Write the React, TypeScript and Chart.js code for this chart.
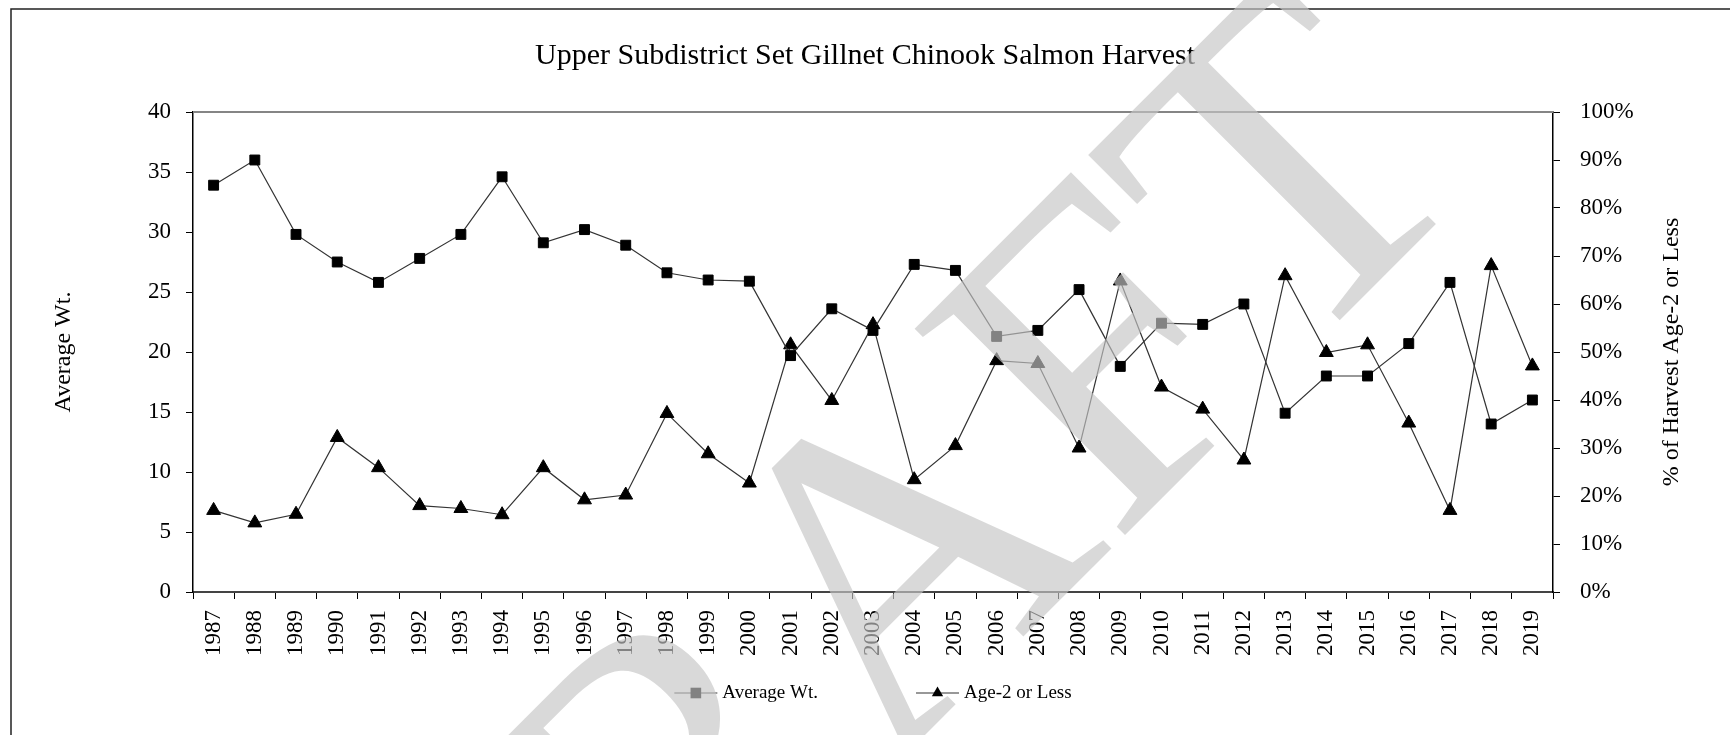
import React, { useEffect, useRef } from 'react';
import { Chart, registerables } from 'chart.js';

Chart.register(...registerables);

const chartTitle = 'Upper Subdistrict Set Gillnet Chinook Salmon Harvest';
const years = [
  '1987', '1988', '1989', '1990', '1991', '1992', '1993', '1994', '1995', '1996', '1997',
  '1998', '1999', '2000', '2001', '2002', '2003', '2004', '2005', '2006', '2007', '2008',
  '2009', '2010', '2011', '2012', '2013', '2014', '2015', '2016', '2017', '2018', '2019',
];
const averageWt = [
  33.9, 36.0, 29.8, 27.5, 25.8, 27.8, 29.8, 34.6, 29.1, 30.2, 28.9,
  26.6, 26.0, 25.9, 19.7, 23.6, 21.8, 27.3, 26.8, 21.3, 21.8, 25.2,
  18.8, 22.4, 22.3, 24.0, 14.9, 18.0, 18.0, 20.7, 25.8, 14.0, 16.0,
];
const ageTwoOrLessPct = [
  17.0, 14.4, 16.2, 32.2, 25.9, 18.0, 17.4, 16.1, 25.9, 19.2, 20.2,
  37.2, 28.8, 22.7, 51.5, 39.9, 55.7, 23.4, 30.5, 48.2, 47.6, 30.0,
  64.8, 42.7, 38.1, 27.5, 65.9, 49.9, 51.5, 35.2, 17.0, 68.0, 47.1,
];
const leftAxisRange = [0, 40];
const leftAxisStep = 5;
const rightAxisRange = [0, 100];
const rightAxisStep = 10;
const leftAxisTitle = 'Average Wt.';
const rightAxisTitle = '% of Harvest Age-2 or Less';
const watermarkText = 'DRAFT';

const SERIF = "'Liberation Serif', 'Times New Roman', serif";
const W = 1730;
const H = 735;

const framePlugin = {
  id: 'frame',
  beforeDraw(chart: any) {
    const { ctx } = chart;
    ctx.save();
    ctx.fillStyle = '#fff';
    ctx.fillRect(0, 0, chart.width, chart.height);
    ctx.strokeStyle = '#222';
    ctx.lineWidth = 1.5;
    ctx.beginPath();
    ctx.moveTo(11, chart.height + 5);
    ctx.lineTo(11, 9);
    ctx.lineTo(chart.width + 5, 9);
    ctx.stroke();
    ctx.restore();
  },
};

const plotTopPlugin = {
  id: 'plotTop',
  afterDatasetsDraw(chart: any) {
    const { ctx, chartArea } = chart;
    ctx.save();
    ctx.strokeStyle = '#858585';
    ctx.lineWidth = 2;
    ctx.beginPath();
    ctx.moveTo(chartArea.left, chartArea.top);
    ctx.lineTo(chartArea.right, chartArea.top);
    ctx.stroke();
    ctx.restore();
  },
};

const rightTitlePlugin = {
  id: 'rightTitle',
  afterDraw(chart: any) {
    const { ctx, chartArea } = chart;
    ctx.save();
    ctx.translate(1672, (chartArea.top + chartArea.bottom) / 2);
    ctx.rotate(-Math.PI / 2);
    ctx.font = `24px ${SERIF}`;
    ctx.fillStyle = '#000';
    ctx.textAlign = 'center';
    ctx.textBaseline = 'middle';
    ctx.fillText(rightAxisTitle, 0, 0);
    ctx.restore();
  },
};

function drawMarker(ctx: CanvasRenderingContext2D, style: string, x: number, y: number, r: number) {
  ctx.beginPath();
  if (style === 'triangle') {
    ctx.moveTo(x, y - r);
    ctx.lineTo(x + r * 0.866, y + r * 0.5);
    ctx.lineTo(x - r * 0.866, y + r * 0.5);
    ctx.closePath();
  } else {
    ctx.rect(x - r * 0.707, y - r * 0.707, r * 1.414, r * 1.414);
  }
  ctx.fill();
}

const legendPlugin = {
  id: 'seriesLegend',
  afterDraw(chart: any) {
    const { ctx, chartArea } = chart;
    ctx.save();
    ctx.font = `19px ${SERIF}`;
    const symbolW = 43;
    const textGap = 5;
    const itemGap = 98;
    const items = chart.data.datasets.map((ds: any) => ({
      label: ds.label,
      style: ds.pointStyle,
      w: symbolW + textGap + ctx.measureText(ds.label).width,
    }));
    const total = items.reduce((a: number, it: any) => a + it.w, 0) + itemGap * (items.length - 1);
    let x = (chartArea.left + chartArea.right) / 2 - total / 2;
    const y = chartArea.bottom + 101;
    items.forEach((it: any) => {
      ctx.strokeStyle = '#333';
      ctx.lineWidth = 1.2;
      ctx.beginPath();
      ctx.moveTo(x, y);
      ctx.lineTo(x + symbolW, y);
      ctx.stroke();
      ctx.fillStyle = '#000';
      drawMarker(ctx, it.style, x + symbolW / 2, y, it.style === 'triangle' ? 6.5 : 7.5);
      ctx.textAlign = 'left';
      ctx.textBaseline = 'middle';
      ctx.fillText(it.label, x + symbolW + textGap, y);
      x += it.w + itemGap;
    });
    ctx.restore();
  },
};

const watermarkPlugin = {
  id: 'watermark',
  afterDraw(chart: any) {
    const { ctx } = chart;
    ctx.save();
    ctx.translate(442, 1218);
    ctx.rotate(-Math.PI / 4);
    ctx.font = `450px ${SERIF}`;
    ctx.fillStyle = 'rgba(197,197,197,0.66)';
    ctx.textAlign = 'left';
    ctx.textBaseline = 'alphabetic';
    ctx.fillText(watermarkText, 0, 0);
    ctx.restore();
  },
};

export default function App() {
  const ref = useRef<HTMLCanvasElement>(null);

  useEffect(() => {
    if (!ref.current) return;
    const tickFont = { family: SERIF, size: 23 };
    const chart = new Chart(ref.current, {
      type: 'line',
      data: {
        labels: years,
        datasets: [
          {
            label: 'Average Wt.',
            data: averageWt,
            yAxisID: 'y',
            borderColor: '#333',
            borderWidth: 1.2,
            pointStyle: 'rect',
            pointRadius: 7,
            pointBackgroundColor: '#000',
            pointBorderColor: '#000',
            pointBorderWidth: 1,
            tension: 0,
          },
          {
            label: 'Age-2 or Less',
            data: ageTwoOrLessPct,
            yAxisID: 'y2',
            borderColor: '#333',
            borderWidth: 1.2,
            pointStyle: 'triangle',
            pointRadius: 8,
            pointBackgroundColor: '#000',
            pointBorderColor: '#000',
            pointBorderWidth: 1,
            tension: 0,
          },
        ],
      },
      options: {
        responsive: false,
        animation: false,
        layout: { padding: { left: 0, right: 0, top: 0, bottom: 43 } },
        plugins: {
          legend: { display: false },
          tooltip: { enabled: false },
          title: {
            display: true,
            text: chartTitle,
            color: '#000',
            font: { family: SERIF, size: 30, weight: 'normal' },
            padding: { top: 38, bottom: 38 },
          },
        },
        scales: {
          x: {
            type: 'category',
            offset: true,
            grid: { offset: true, drawOnChartArea: false, drawTicks: true, tickLength: 7, color: '#000', lineWidth: 1 },
            border: { color: '#444', width: 2 },
            ticks: { autoSkip: false, maxRotation: 90, minRotation: 90, font: tickFont, color: '#000', padding: 11 },
            afterFit: (s: any) => { s.height = 100; },
          },
          y: {
            position: 'left',
            min: leftAxisRange[0],
            max: leftAxisRange[1],
            ticks: { stepSize: leftAxisStep, font: tickFont, color: '#000', padding: 15 },
            grid: { drawOnChartArea: false, tickLength: 7, color: '#000' },
            border: { color: '#000', width: 1.5 },
            title: {
              display: true,
              text: leftAxisTitle,
              color: '#000',
              font: { family: SERIF, size: 24 },
              padding: { top: 49, bottom: 0 },
            },
            afterFit: (s: any) => { s.width = 193; },
          },
          y2: {
            position: 'right',
            min: rightAxisRange[0],
            max: rightAxisRange[1],
            ticks: {
              stepSize: rightAxisStep,
              font: tickFont,
              color: '#000',
              padding: 20,
              callback: (v: any) => `${v}%`,
            },
            grid: { drawOnChartArea: false, tickLength: 7, color: '#000' },
            border: { color: '#000', width: 1.5 },
            afterFit: (s: any) => { s.width = 177; },
          },
        },
      } as any,
      plugins: [framePlugin, plotTopPlugin, rightTitlePlugin, legendPlugin, watermarkPlugin],
    });
    return () => chart.destroy();
  }, []);

  return (
    <div style={{ position: 'absolute', left: 0, top: 0, width: W, height: H, overflow: 'hidden' }}>
      <canvas ref={ref} width={W} height={H} style={{ display: 'block' }} />
    </div>
  );
}
